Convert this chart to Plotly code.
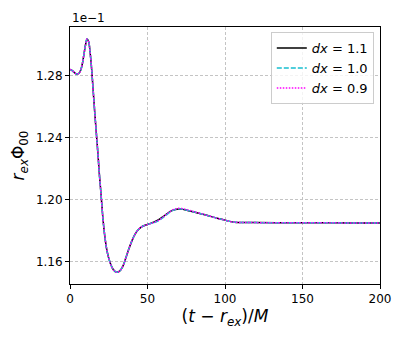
import plotly.graph_objects as go

# time axis (t - r_ex)/M
t = [0, 1, 2, 3, 4, 5, 6, 7, 8, 9, 10, 11, 12, 13, 14, 15, 16, 17, 18, 19,
     20, 21, 22, 23, 24, 26, 28, 30, 32, 34, 36, 38, 40, 42, 44, 46, 48, 50,
     52, 54, 56, 58, 60, 62, 64, 66, 68, 70, 72, 74, 76, 78, 80, 85, 90, 95,
     100, 103, 106, 110, 120, 140, 160, 180, 200]

# r_ex * Phi_00 (in units of 1e-1)
phi_11 = [1.2843, 1.2838, 1.2830, 1.2820, 1.2814, 1.2813, 1.2820, 1.2840, 1.2880, 1.2940,
          1.3000, 1.3038, 1.3022, 1.2950, 1.2840, 1.2700, 1.2560, 1.2430, 1.2300, 1.2160,
          1.2040, 1.1910, 1.1805, 1.1725, 1.1665, 1.1592, 1.1550, 1.1534, 1.1541, 1.1570,
          1.1625, 1.1685, 1.1738, 1.1780, 1.1808, 1.1825, 1.1835, 1.1842, 1.1849, 1.1857,
          1.1866, 1.1878, 1.1892, 1.1907, 1.1922, 1.1933, 1.1939, 1.1942, 1.1941, 1.1937,
          1.1932, 1.1927, 1.1922, 1.1910, 1.1896, 1.1882, 1.1870, 1.1862, 1.1857, 1.1855,
          1.1854, 1.1853, 1.1853, 1.1852, 1.1851]
phi_10 = [1.2843, 1.2838, 1.2830, 1.2820, 1.2814, 1.2813, 1.2820, 1.2840, 1.2880, 1.2940,
          1.3000, 1.3038, 1.3022, 1.2950, 1.2840, 1.2700, 1.2560, 1.2430, 1.2300, 1.2160,
          1.2040, 1.1910, 1.1805, 1.1725, 1.1665, 1.1592, 1.1550, 1.1534, 1.1541, 1.1570,
          1.1625, 1.1685, 1.1738, 1.1780, 1.1808, 1.1825, 1.1835, 1.1842, 1.1848, 1.1854,
          1.1861, 1.1872, 1.1886, 1.1902, 1.1918, 1.1931, 1.1939, 1.1943, 1.1942, 1.1938,
          1.1933, 1.1928, 1.1923, 1.1910, 1.1896, 1.1882, 1.1870, 1.1862, 1.1857, 1.1855,
          1.1854, 1.1853, 1.1853, 1.1852, 1.1851]
phi_09 = [1.2843, 1.2838, 1.2830, 1.2820, 1.2814, 1.2813, 1.2820, 1.2840, 1.2880, 1.2940,
          1.3000, 1.3038, 1.3022, 1.2950, 1.2840, 1.2700, 1.2560, 1.2430, 1.2300, 1.2160,
          1.2040, 1.1910, 1.1805, 1.1725, 1.1665, 1.1592, 1.1550, 1.1534, 1.1541, 1.1570,
          1.1625, 1.1685, 1.1738, 1.1780, 1.1808, 1.1825, 1.1835, 1.1842, 1.1848, 1.1855,
          1.1863, 1.1875, 1.1890, 1.1906, 1.1922, 1.1935, 1.1942, 1.1946, 1.1945, 1.1941,
          1.1936, 1.1930, 1.1924, 1.1911, 1.1896, 1.1882, 1.1870, 1.1862, 1.1857, 1.1855,
          1.1854, 1.1853, 1.1853, 1.1852, 1.1851]

labels = ["<i>dx</i> = 1.1", "<i>dx</i> = 1.0", "<i>dx</i> = 0.9"]

fig = go.Figure()
fig.add_trace(go.Scatter(x=t, y=phi_11, mode="lines", name=labels[0],
                         line=dict(color="black", width=1.5, shape="spline")))
fig.add_trace(go.Scatter(x=t, y=phi_10, mode="lines", name=labels[1],
                         line=dict(color="#17becf", width=1.5, dash="5px,2px", shape="spline")))
fig.add_trace(go.Scatter(x=t, y=phi_09, mode="lines", name=labels[2],
                         line=dict(color="magenta", width=1.5, dash="1.5px,1.5px", shape="spline")))

axis_style = dict(showline=True, linecolor="black", linewidth=1, mirror=True,
                  ticks="outside", ticklen=4, tickcolor="black", automargin=False,
                  showgrid=True, gridcolor="#c4c4c4", griddash="3px,2px", gridwidth=0.8,
                  zeroline=False, tickfont=dict(size=12, color="black"))

fig.update_xaxes(range=[0, 200], tickvals=[0, 50, 100, 150, 200],
                 title=dict(text="(<i>t</i> − <i>r</i><sub><i>ex</i></sub>)/<i>M</i>",
                            font=dict(size=17, color="black"), standoff=4),
                 **axis_style)
fig.update_yaxes(range=[1.1458, 1.3116], tickvals=[1.16, 1.20, 1.24, 1.28],
                 ticktext=["1.16", "1.20", "1.24", "1.28"],
                 title=dict(text="<i>r</i><sub><i>ex</i></sub>Φ<sub>00</sub>",
                            font=dict(size=17, color="black"), standoff=6),
                 **axis_style)

fig.add_annotation(text="1e−1", xref="paper", yref="paper", x=0, y=1,
                   xanchor="left", yanchor="bottom", showarrow=False,
                   font=dict(size=12, color="black"))

# page body adds an 8px offset, so figure is shrunk by that much
fig.update_layout(
    width=399, height=331,
    margin=dict(l=62, r=27, t=19, b=55),
    paper_bgcolor="white", plot_bgcolor="white",
    font=dict(family="DejaVu Sans", color="black"),
    legend=dict(x=0.98, y=0.98, xanchor="right", yanchor="top",
                bgcolor="rgba(255,255,255,0.8)", bordercolor="#cccccc", borderwidth=1,
                font=dict(size=13), tracegroupgap=2),
)

fig.write_html("out.html")
